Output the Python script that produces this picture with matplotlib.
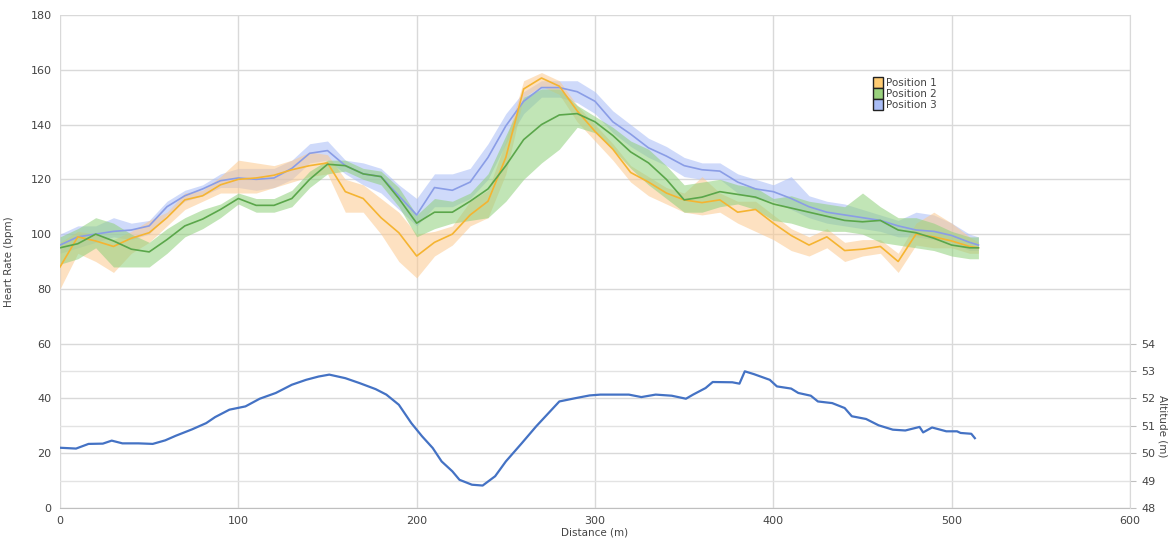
import numpy as np
import matplotlib.pyplot as plt
from matplotlib.patches import Patch

# =========================
# Heart rate data (bpm), sampled every 10 m
# =========================
dist = [0, 10, 20, 30, 40, 50, 60, 70, 80, 90, 100, 110, 120, 130, 140, 150,
        160, 170, 180, 190, 200, 210, 220, 230, 240, 250, 260, 270, 280, 290,
        300, 310, 320, 330, 340, 350, 360, 370, 380, 390, 400, 410, 420, 430,
        440, 450, 460, 470, 480, 490, 500, 510, 515]

p1_mean = [88, 99, 97.5, 95.5, 98.5, 100.5, 106, 112.5, 114, 118, 120, 120.5, 121.5,
           123.5, 125, 126, 115.5, 113, 106, 100.5, 92, 97, 100, 107, 112, 128,
           153, 157, 154, 145, 137.5, 131, 122.5, 119, 115, 112.5, 111.5, 112.5,
           108, 109, 104, 99.5, 96, 99, 94, 94.5, 95.5, 90, 100, 99, 97.5, 95.5, 95]
p1_low = [80, 93, 90, 86, 93, 97, 103, 109, 112, 115, 115, 115, 117, 119, 121, 122,
          108, 108, 100, 90, 84, 92, 96, 103, 106, 122, 150, 154, 151, 141, 134,
          127, 119, 114, 111, 108, 107, 108, 104, 101, 98, 94, 92, 95, 90, 92, 93,
          86, 96, 95, 95, 93, 93]
p1_high = [97, 101, 100, 98, 101, 105, 108, 115, 116, 121, 127, 126, 125, 127, 130,
           129, 120, 118, 113, 108, 100, 101, 103, 112, 116, 134, 156, 159, 156, 147,
           140, 133, 125, 121, 117, 115, 121, 115, 112, 112, 107, 102, 99, 102, 97,
           98, 98, 93, 104, 108, 104, 99, 97]

p2_mean = [95, 96.5, 100, 97.5, 94.5, 93.5, 98, 103, 105.5, 109, 113, 110.5, 110.5,
           113, 120, 125.5, 125, 122, 121, 113, 104, 108, 108, 112, 116.5, 125,
           134.5, 140, 143.5, 144, 141, 136, 130, 126, 120, 112.5, 113.5, 115.5,
           114.5, 113.5, 111, 109.5, 108, 106.5, 105, 104.5, 105, 101.5, 100.5,
           98.5, 96, 95, 95]
p2_low = [89, 91, 95, 88, 88, 88, 93, 99, 102, 106, 111, 108, 108, 110, 117, 122,
          123, 120, 118, 110, 99, 102, 104, 105, 106, 112, 120, 126, 131, 139, 137,
          131, 124, 118, 113, 108, 108, 110, 111, 109, 105, 104, 102, 101, 101, 100,
          97, 96, 95, 94, 92, 91, 91]
p2_high = [99, 102, 106, 104, 100, 97, 102, 106, 109, 111, 115, 113, 113, 116, 123,
           127, 127, 124, 123, 117, 107, 113, 112, 115, 122, 136, 150, 153, 153, 147,
           143, 139, 134, 131, 125, 118, 119, 120, 118, 117, 113, 114, 112, 111, 110,
           115, 110, 106, 106, 104, 101, 99, 99]

p3_mean = [96, 99, 100, 101, 101.5, 103, 110, 114, 116.5, 119.5, 120.5, 120, 120.5,
           124, 129.5, 130.5, 125, 122, 121, 114, 107, 117, 116, 119, 128, 139.5,
           148.5, 153.5, 153.5, 152, 148.5, 141, 136.5, 131.5, 128.5, 125, 123.5,
           123, 119, 116.5, 115.5, 113, 110, 108, 107, 106, 105, 103, 101.5, 101,
           99.5, 97, 96]
p3_low = [93, 95, 97, 99, 98, 100, 107, 112, 114, 117, 117, 116, 117, 120, 126, 127,
          122, 118, 115, 109, 103, 110, 110, 113, 120, 133, 144, 150, 150, 148, 144,
          137, 132, 128, 125, 121, 120, 120, 115, 113, 112, 109, 106, 104, 103, 102,
          101, 99, 99, 98, 97, 94, 94]
p3_high = [100, 103, 103, 106, 104, 105, 112, 116, 118, 122, 124, 124, 124, 127, 133,
           134, 127, 126, 124, 118, 113, 122, 122, 124, 133, 144, 152, 156, 156, 156,
           152, 145, 140, 135, 132, 128, 126, 126, 122, 120, 118, 121, 114, 112, 111,
           109, 107, 105, 108, 107, 104, 100, 99]

# =========================
# Altitude data (m)
# =========================
alt_dist = [0, 9, 16, 24, 29, 35, 44, 52, 59, 65, 74, 82, 87, 95, 104, 112, 121,
            130, 138, 145, 151, 160, 168, 177, 183, 190, 197, 203, 209, 214, 220,
            224, 231, 237, 244, 250, 259, 267, 274, 280, 289, 297, 303, 319, 326,
            334, 343, 351, 355, 362, 366, 377, 381, 384, 389, 398, 402, 410, 414,
            421, 425, 433, 440, 444, 452, 459, 467, 474, 482, 484, 489, 497, 503,
            505, 511, 513]
altitude = [50.20, 50.17, 50.34, 50.35, 50.46, 50.36, 50.36, 50.34, 50.47, 50.64,
            50.87, 51.10, 51.32, 51.59, 51.71, 51.99, 52.20, 52.50, 52.68, 52.80,
            52.87, 52.74, 52.56, 52.34, 52.14, 51.77, 51.10, 50.62, 50.19, 49.70,
            49.34, 49.03, 48.85, 48.82, 49.16, 49.70, 50.37, 50.98, 51.47, 51.89,
            52.01, 52.11, 52.14, 52.14, 52.05, 52.14, 52.10, 51.99, 52.14, 52.38,
            52.60, 52.59, 52.54, 52.99, 52.89, 52.68, 52.44, 52.36, 52.20, 52.10,
            51.89, 51.83, 51.65, 51.35, 51.25, 51.02, 50.86, 50.83, 50.96, 50.76,
            50.94, 50.80, 50.80, 50.74, 50.71, 50.55]

series = [
    ("Position 3", p3_mean, p3_low, p3_high, "#8a9de6", "#a8bcf7", "#a9bdf6"),
    ("Position 1", p1_mean, p1_low, p1_high, "#f5b431", "#fcc98f", "#ffcc73"),
    ("Position 2", p2_mean, p2_low, p2_high, "#5aa64a", "#8fd07a", "#9ad27e"),
]

fig = plt.figure(figsize=(11.7, 5.44), dpi=100)
ax = fig.add_axes([60 / 1170, 36 / 544, 1070 / 1170, 493 / 544])

x = np.array(dist)
for name, m, lo, hi, lc, fc, _ in series:
    ax.fill_between(x, lo, hi, color=fc, alpha=0.55, linewidth=0, zorder=2)
for name, m, lo, hi, lc, fc, _ in series:
    ax.plot(x, m, color=lc, linewidth=1.2, zorder=3)

ax.set_xlim(0, 600)
ax.set_ylim(0, 180)
ax.set_xticks(range(0, 601, 100))
ax.set_yticks(range(0, 181, 20))
ax.set_yticks([10, 30, 50], minor=True)
ax.grid(True, which="major", color="#d9d9d9", linewidth=1.0, zorder=0)
ax.grid(True, which="minor", axis="y", color="#e3e3e3", linewidth=1.0, zorder=0)
ax.tick_params(axis="y", which="minor", length=0)
ax.tick_params(axis="both", which="major", length=0, labelsize=8, colors="#444444", pad=6)
for s in ["top", "right", "left"]:
    ax.spines[s].set_visible(False)
ax.spines["bottom"].set_color("#bfbfbf")
ax.set_axisbelow(True)
ax.set_xlabel("Distance (m)", fontsize=7.5, color="#444444", labelpad=1)
ax.set_ylabel("Heart Rate (bpm)", fontsize=7.5, color="#444444", labelpad=12)

# Altitude on a secondary axis occupying the bottom third
ax2 = ax.twinx()
ax2.plot(alt_dist, altitude, color="#4472c4", linewidth=1.6, zorder=4)
ax2.set_ylim(48, 66)
ax2.set_yticks(range(48, 55))
ax2.tick_params(axis="y", length=4, width=0.8, color="#bfbfbf", labelsize=8,
                colors="#444444", pad=4)
for s in ["top", "left", "bottom"]:
    ax2.spines[s].set_visible(False)
ax2.spines["right"].set_color("#d9d9d9")
ax2.set_ylabel("Altitude (m)", fontsize=7.5, color="#444444", rotation=270)
ax2.yaxis.set_label_coords(1.035, 30 / 180)

handles = [Patch(facecolor=s[6], edgecolor="#222222", linewidth=1.0)
           for s in (series[1], series[2], series[0])]
labels = ["Position 1", "Position 2", "Position 3"]
leg = ax2.legend(handles, labels, loc="upper left", bbox_to_anchor=(0.755, 0.885),
                 frameon=False, fontsize=7.5, handlelength=1.0, handleheight=1.25,
                 labelspacing=0.0, borderpad=0, handletextpad=0.2)
for t in leg.get_texts():
    t.set_color("#444444")

fig.savefig("out.png", dpi=100)
